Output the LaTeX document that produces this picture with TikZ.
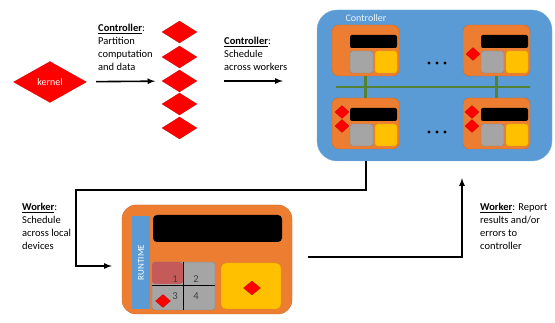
\documentclass[tikz,border=0pt]{standalone}
\usepackage{fontspec}
\setmainfont{Carlito}
\usepackage{xcolor}
\usepackage{tikz}
\usetikzlibrary{shapes.geometric}
\definecolor{ctrlblue}{HTML}{5B9BD5}
\definecolor{wrkorange}{HTML}{ED7D31}
\definecolor{slotgray}{HTML}{A5A5A5}
\definecolor{devyellow}{HTML}{FFC000}
\definecolor{busgreen}{HTML}{548235}
\definecolor{hotslot}{HTML}{C55A5A}
\tikzset{
  task/.style={diamond, fill=red, draw=red!75!black, very thin, inner sep=0pt},
  note/.style={anchor=north west, align=left, inner sep=0pt, font=\fontsize{10.5}{13}\selectfont},
  flow/.style={->, >=latex, line width=1.6pt},
  bus/.style={busgreen, line width=2.2pt},
  ctrl box/.style={fill=ctrlblue, draw=ctrlblue!80!white, rounded corners=20pt, minimum width=235pt, minimum height=151pt},
  worker box/.style={fill=wrkorange, draw=wrkorange!85!black, rounded corners=#1},
  slot/.style={fill=slotgray, draw=slotgray!80!black, thin, rounded corners=2.5pt},
  device/.style={fill=devyellow, draw=devyellow!85!black, thin, rounded corners=2.5pt},
  minion/.pic={
    \node[worker box=6pt, minimum width=67pt, minimum height=51pt] (-box) at (33.5,25.5) {};
    \fill[black, rounded corners=2pt] (18,10) rectangle (65,23);
    \filldraw[slot] (18,26) rectangle (41,48);
    \filldraw[device] (43,26) rectangle (65,48);
  },
}

\begin{document}
\begin{tikzpicture}[x=1pt, y=-1pt]
  \useasboundingbox (0,0) rectangle (555,323);

  \node[task, minimum width=73pt, minimum height=41pt, text=white, font=\fontsize{10}{12}\selectfont] (kernel) at (50,82) {kernel};
  \foreach \i/\y in {1/32,2/57,3/81,4/104,5/128}
    \node[task, minimum width=35pt, minimum height=22pt] (part\i) at (179.5,\y) {};

  \node[note] (split) at (98,24) {\underline{\textbf{Controller}}:\\Partition\\computation\\and data};
  \node[note] (sched) at (224,37) {\underline{\textbf{Controller}}:\\Schedule\\across workers};
  \draw[flow, shorten <=10pt, shorten >=7pt] (kernel) -- (part3);

  \node[ctrl box] (ctrl) at (434.5,85.5) {};
  \node[text=white!88!ctrlblue, font=\fontsize{10}{12}\selectfont] (ctrllabel) at (366,18) {Controller};
  \draw[flow, shorten <=27pt, shorten >=34pt] (part3) -- (ctrl.west |- part3);

  \draw[bus] (336,87) -- (530,87);
  \pic (w1) at (332,25) {minion};
  \pic (w2) at (463,25) {minion};
  \pic (w3) at (332,98) {minion};
  \pic (w4) at (463,98) {minion};
  \draw[bus] (w1-box.south) -- (w3-box.north);
  \draw[bus] (w2-box.south) -- (w4-box.north);
  \foreach \x/\y in {437/63,437/132}
    \foreach \dx in {-8,0,8}
      \fill (\x+\dx,\y) circle (1.7pt);
  \foreach \n/\x/\y in {t1/473/54,t2/342/112,t3/342/126,t4/472/112,t5/472/126}
    \node[task, minimum width=14pt, minimum height=13pt] (\n) at (\x,\y) {};

  \node[worker box=14pt, minimum width=170pt, minimum height=109pt] (worker) at (207,259.5) {};
  \node[fill=ctrlblue, minimum width=18pt, minimum height=93pt, inner sep=0pt] (runtime) at (141,262.5) {};
  \node[rotate=90, text=white, font=\fontsize{9}{10}\selectfont] at (runtime) {RUNTIME};
  \fill[black, rounded corners=4pt] (153,215) rectangle (282,242);
  \filldraw[slot] (152,262) rectangle (215,310);
  \fill[hotslot, rounded corners=3pt] (152,262) rectangle (183,284);
  \draw[line width=1pt] (183,262) -- (183,310) (152,286) -- (215,286);
  \foreach \t/\x/\y in {1/175/279,2/196/279,3/175/296,4/196/296}
    \node[text=black!75, font=\fontsize{10.5}{12}\selectfont] at (\x,\y) {\t};
  \node[task, minimum width=15pt, minimum height=13pt] (t6) at (163,301) {};
  \filldraw[device, rounded corners=5pt] (221,263) rectangle (281,309);
  \node[task, minimum width=17pt, minimum height=14pt] (t7) at (252,288) {};

  \coordinate (turn) at (76,190);
  \draw[flow, shorten >=10pt] ([xshift=-68.5pt]ctrl.south) |- (turn) |- ([yshift=-6.5pt]worker.west);
  \draw[flow, shorten <=16pt, shorten >=17pt] ([yshift=2.5pt]worker.east) -| ([xshift=27.5pt]ctrl.south);

  \node[note] (local) at (22,203) {\underline{\textbf{Worker}}:\\Schedule\\across local\\devices};
  \node[note] (report) at (480,203) {\underline{\textbf{Worker}}: Report\\results and/or\\errors to\\controller};
\end{tikzpicture}
\end{document}
